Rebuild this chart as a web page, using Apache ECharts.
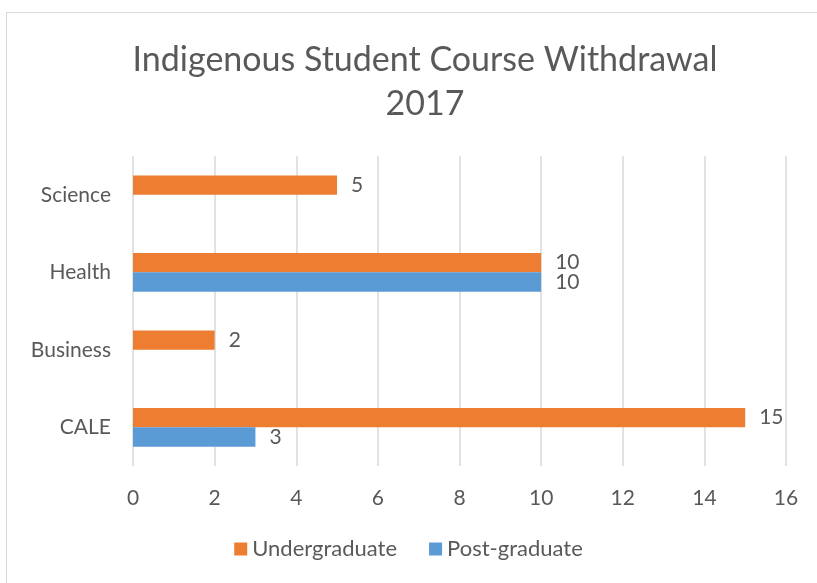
<!DOCTYPE html>
<html lang="en">
<head>
<meta charset="utf-8">
<title>Indigenous Student Course Withdrawal 2017</title>
<script src="https://cdn.jsdelivr.net/npm/echarts@6/dist/echarts.min.js"></script>
<style>
    html, body { margin: 0; padding: 0; background: #fff; }
    .frame { position: absolute; left: 6px; top: 12px; width: 820px; height: 580px; border: 1px solid #d9d9d9; box-sizing: border-box; }
    #main { position: absolute; left: 0; top: 0; width: 817px; height: 583px; }
</style>
</head>
<body>
<div class="frame"></div>
<div id="main"></div>
<script type="text/javascript">
    // 类别（自下而上）
    const courses = ['CALE', 'Business', 'Health', 'Science'];
    const undergraduate = [15, 2, 10, 5];
    const postgraduate = [3, null, 10, null];
    const xTicks = [0, 2, 4, 6, 8, 10, 12, 14, 16];

    const textColor = '#595959';
    const fontFamily = 'Lato, "Open Sans", sans-serif';

    let chart = echarts.init(document.getElementById('main'));

    let option = {
        textStyle: { fontFamily: fontFamily },
        title: {
            text: 'Indigenous Student Course Withdrawal\n2017',
            left: 420,
            textAlign: 'center',
            top: 33,
            textStyle: { color: textColor, fontSize: 34, fontWeight: 'normal', lineHeight: 44, fontFamily: fontFamily }
        },
        legend: {
            data: ['Undergraduate', 'Post-graduate'],
            bottom: 18,
            left: 'center',
            itemWidth: 13,
            itemHeight: 13,
            itemGap: 32,
            icon: 'rect',
            textStyle: { color: textColor, fontSize: 22, fontFamily: fontFamily }
        },
        grid: { left: 133, right: 31, top: 156, bottom: 117, containLabel: false },
        xAxis: {
            type: 'value',
            min: xTicks[0],
            max: xTicks[xTicks.length - 1],
            interval: 2,
            axisLine: { show: false },
            axisTick: { show: false },
            axisLabel: { color: textColor, fontSize: 21, margin: 22 },
            splitLine: { lineStyle: { color: '#d9d9d9', width: 1.5 } }
        },
        yAxis: {
            type: 'category',
            data: courses,
            axisLine: { show: false },
            axisTick: { show: false },
            axisLabel: { color: textColor, fontSize: 21, margin: 22 }
        },
        series: [
            {
                name: 'Undergraduate',
                type: 'bar',
                data: undergraduate,
                barGap: '0%',
                barCategoryGap: '50%',
                itemStyle: { color: '#ed7d31' },
                label: { show: true, position: 'right', distance: 14, color: textColor, fontSize: 21 }
            },
            {
                name: 'Post-graduate',
                type: 'bar',
                data: postgraduate,
                barGap: '0%',
                barCategoryGap: '50%',
                itemStyle: { color: '#5b9bd5' },
                label: { show: true, position: 'right', distance: 14, color: textColor, fontSize: 21 }
            }
        ]
    };

    chart.setOption(option);
</script>
</body>
</html>
